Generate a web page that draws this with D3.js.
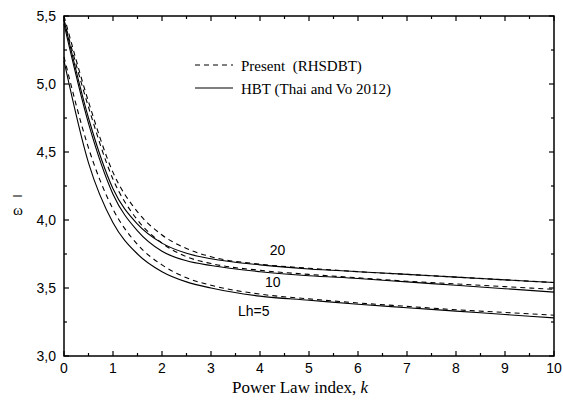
<!DOCTYPE html>
<html>
<head>
<meta charset="utf-8">
<script src="https://cdn.jsdelivr.net/npm/d3@7"></script>
<style>
  body { margin: 0; background: #fff; }
  svg { display: block; }
</style>
</head>
<body>
<div id="chart"></div>
<script>
// data
var kValues = [0, 0.5, 1, 1.5, 2, 2.5, 3, 4, 5, 6, 7, 8, 9, 10];

var hbt20 = [5.47, 4.75, 4.23, 3.97, 3.83, 3.755, 3.715, 3.67, 3.64, 3.62, 3.60, 3.58, 3.56, 3.54];
var hbt10 = [5.44, 4.71, 4.19, 3.92, 3.77, 3.70, 3.665, 3.62, 3.59, 3.57, 3.545, 3.52, 3.495, 3.47];
var hbt5  = [5.17, 4.42, 3.98, 3.75, 3.62, 3.545, 3.50, 3.44, 3.41, 3.38, 3.355, 3.33, 3.305, 3.28];

var present20 = [5.50, 4.87, 4.35, 4.06, 3.89, 3.79, 3.73, 3.675, 3.645, 3.62, 3.60, 3.58, 3.56, 3.54];
var present10 = [5.47, 4.83, 4.30, 4.00, 3.83, 3.73, 3.68, 3.63, 3.60, 3.575, 3.55, 3.53, 3.51, 3.49];
var present5  = [5.20, 4.53, 4.08, 3.82, 3.67, 3.575, 3.52, 3.455, 3.42, 3.39, 3.365, 3.34, 3.32, 3.30];

var xTicks = [0, 1, 2, 3, 4, 5, 6, 7, 8, 9, 10];
var yTicks = [3.0, 3.5, 4.0, 4.5, 5.0, 5.5];

var curveLabels = [
    {text: "20", k: 4.2, v: 3.74},
    {text: "10", k: 4.1, v: 3.51},
    {text: "Lh=5", k: 3.55, v: 3.295}
];

var margin = {top: 16, right: 9, bottom: 45, left: 64},
    width = 563 - margin.left - margin.right,
    height = 401 - margin.top - margin.bottom;

var svg = d3.select("#chart")
    .append("svg")
    .attr("width", 563)
    .attr("height", 401)
    .append("g")
    .attr("transform", "translate(" + margin.left + "," + margin.top + ")");

var x = d3.scaleLinear().domain([0, 10]).range([0, width]);
var y = d3.scaleLinear().domain([3.0, 5.5]).range([height, 0]);

var fmt = function (d) { return d3.format(".1f")(d).replace(".", ","); };
var minorX = d3.range(0.5, 10, 1);
var minorY = d3.range(3.25, 5.5, 0.5);

// ticks point inward on all four sides
function tickLines(g, vals, len, orient) {
    g.selectAll("line." + orient + len)
        .data(vals)
        .enter().append("line")
        .attr("stroke", "#000")
        .attr("stroke-width", 1.2)
        .attr("x1", function (d) { return orient === "b" || orient === "t" ? x(d) : (orient === "l" ? 0 : width); })
        .attr("x2", function (d) { return orient === "b" || orient === "t" ? x(d) : (orient === "l" ? len : width - len); })
        .attr("y1", function (d) { return orient === "l" || orient === "r" ? y(d) : (orient === "b" ? height : 0); })
        .attr("y2", function (d) { return orient === "l" || orient === "r" ? y(d) : (orient === "b" ? height - len : len); });
}
var ticksG = svg.append("g");
tickLines(ticksG, xTicks, 5, "b");
tickLines(ticksG, minorX, 3, "b");
tickLines(ticksG, xTicks, 5, "t");
tickLines(ticksG, minorX, 3, "t");
tickLines(ticksG, yTicks, 5, "l");
tickLines(ticksG, minorY, 3, "l");
tickLines(ticksG, yTicks, 5, "r");
tickLines(ticksG, minorY, 3, "r");

// tick labels
svg.append("g").selectAll("text")
    .data(xTicks)
    .enter().append("text")
    .attr("x", function (d) { return x(d); })
    .attr("y", height + 17)
    .attr("text-anchor", "middle")
    .style("font-family", "'Liberation Sans', Arial, sans-serif")
    .style("font-size", "14px")
    .text(function (d) { return d; });

svg.append("g").selectAll("text")
    .data(yTicks)
    .enter().append("text")
    .attr("x", -8)
    .attr("y", function (d) { return y(d) + 5; })
    .attr("text-anchor", "end")
    .style("font-family", "'Liberation Sans', Arial, sans-serif")
    .style("font-size", "14px")
    .text(fmt);

// curves
var line = d3.line()
    .x(function (d, i) { return x(kValues[i]); })
    .y(function (d) { return y(d); })
    .curve(d3.curveMonotoneX);

[hbt20, hbt10, hbt5].forEach(function (s) {
    svg.append("path")
        .attr("d", line(s))
        .attr("fill", "none")
        .attr("stroke", "#000")
        .attr("stroke-width", 1.1);
});
[present20, present10, present5].forEach(function (s) {
    svg.append("path")
        .attr("d", line(s))
        .attr("fill", "none")
        .attr("stroke", "#000")
        .attr("stroke-width", 1.1)
        .attr("stroke-dasharray", "5,4");
});

// frame
svg.append("rect")
    .attr("width", width)
    .attr("height", height)
    .attr("fill", "none")
    .attr("stroke", "#000")
    .attr("stroke-width", 1.5);

// curve labels
svg.selectAll(".clabel")
    .data(curveLabels)
    .enter().append("text")
    .attr("class", "clabel")
    .attr("x", function (d) { return x(d.k); })
    .attr("y", function (d) { return y(d.v); })
    .style("font-family", "'Liberation Sans', Arial, sans-serif")
    .style("font-size", "14px")
    .text(function (d) { return d.text; });

// legend
var legend = svg.append("g").attr("transform", "translate(131,49)");
legend.append("line")
    .attr("x1", 0).attr("x2", 38).attr("y1", 0).attr("y2", 0)
    .attr("stroke", "#000").attr("stroke-width", 1.1).attr("stroke-dasharray", "5,4");
legend.append("line")
    .attr("x1", 0).attr("x2", 38).attr("y1", 23).attr("y2", 23)
    .attr("stroke", "#000").attr("stroke-width", 1.1);
legend.append("text")
    .attr("x", 46).attr("y", 6)
    .style("font-family", "'Liberation Serif', 'Times New Roman', serif")
    .style("font-size", "15px")
    .attr("xml:space", "preserve")
    .text("Present  (RHSDBT)");
legend.append("text")
    .attr("x", 46).attr("y", 29)
    .style("font-family", "'Liberation Serif', 'Times New Roman', serif")
    .style("font-size", "15px")
    .text("HBT (Thai and Vo 2012)");

// axis titles
var xt = svg.append("text")
    .attr("x", 236)
    .attr("y", height + 37)
    .attr("text-anchor", "middle")
    .style("font-family", "'Liberation Serif', 'Times New Roman', serif")
    .style("font-size", "17px");
xt.append("tspan").text("Power Law index, ");
xt.append("tspan").style("font-style", "italic").text("k");

svg.append("text")
    .attr("x", -46)
    .attr("y", 199)
    .attr("text-anchor", "middle")
    .style("font-family", "'Liberation Serif', 'Times New Roman', serif")
    .style("font-size", "15px")
    .text("ω");
svg.append("text")
    .attr("transform", "translate(-42,180) rotate(-90)")
    .attr("text-anchor", "middle")
    .style("font-family", "'Liberation Sans', Arial, sans-serif")
    .style("font-size", "12px")
    .text("l");
</script>
</body>
</html>
